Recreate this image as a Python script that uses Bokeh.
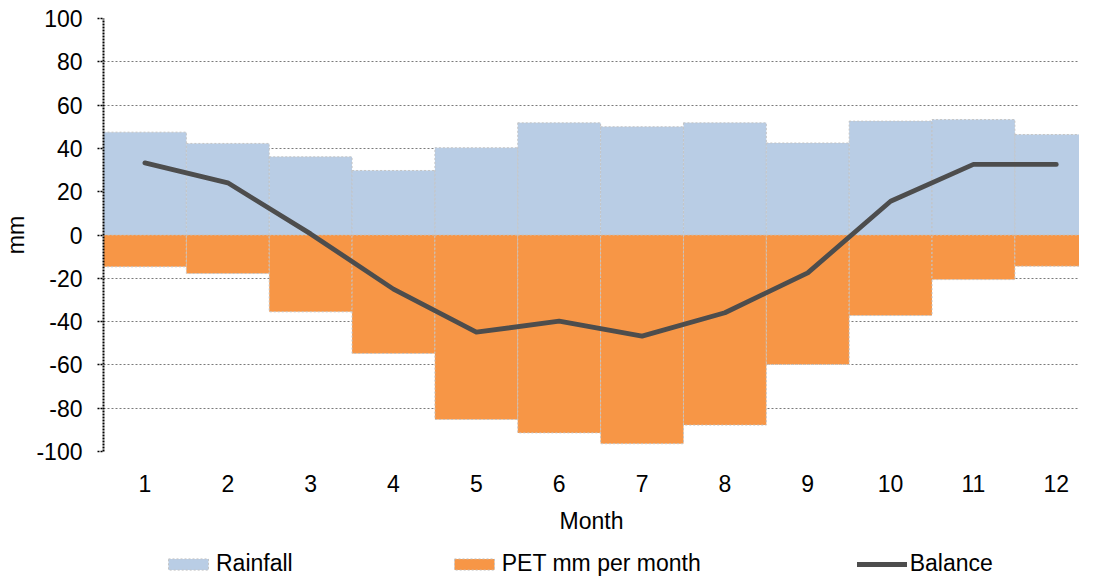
from bokeh.plotting import figure
from bokeh.layouts import column
from bokeh.models import Legend, LegendItem, FixedTicker, Range1d, PrintfTickFormatter
from bokeh.embed import file_html
from bokeh.resources import INLINE

months = [1, 2, 3, 4, 5, 6, 7, 8, 9, 10, 11, 12]
rainfall = [47.5, 42.3, 36.1, 29.8, 40.3, 51.8, 50.0, 51.8, 42.5, 52.6, 53.3, 46.4]
pet = [-14.7, -17.8, -35.5, -54.7, -85.2, -91.4, -96.4, -87.8, -59.8, -37.2, -20.6, -14.4]
balance = [33.3, 24.1, 0.5, -25.0, -44.9, -39.8, -46.7, -35.9, -17.5, 15.6, 32.6, 32.6]
y_ticks = [-100, -80, -60, -40, -20, 0, 20, 40, 60, 80, 100]

FONT = "Liberation Sans"
FS = "23px"
RAIN_C = "#B9CDE5"
PET_C = "#F79646"
BAL_C = "#4D4D4D"
EDGE_C = "#c4c4c4"

p = figure(width=1079, height=539, x_range=Range1d(0.5, 12.28), y_range=Range1d(-100, 100),
           output_backend="svg", toolbar_location=None,
           min_border_left=10, min_border_right=0, min_border_top=18, min_border_bottom=88)
p.outline_line_color = None
p.background_fill_color = "white"

p.xgrid.visible = False
p.ygrid.ticker = FixedTicker(ticks=y_ticks)
p.ygrid.grid_line_color = "#7a7a7a"
p.ygrid.grid_line_dash = "2 2"
p.ygrid.grid_line_width = 1

p.vbar(x=months, top=rainfall, bottom=0, width=1.0, fill_color=RAIN_C,
       line_color=EDGE_C, line_dash="2 2", line_width=1)
p.vbar(x=months, top=pet, bottom=0, width=1.0, fill_color=PET_C,
       line_color=EDGE_C, line_dash="2 2", line_width=1)
p.line(months, balance, line_width=4.8, line_color=BAL_C,
       line_cap="round", line_join="round")

ya = p.yaxis[0]
ya.ticker = FixedTicker(ticks=y_ticks)
ya.formatter = PrintfTickFormatter(format="%d")
ya.axis_line_color = "black"
ya.axis_line_dash = "2 1"
ya.axis_line_width = 2
ya.major_tick_out = 6
ya.major_tick_in = 0
ya.major_tick_line_color = "black"
ya.major_tick_line_dash = "2 1"
ya.major_tick_line_width = 1.5
ya.minor_tick_line_color = None
ya.major_label_standoff = 15
ya.major_label_text_font = FONT
ya.major_label_text_font_size = FS
ya.major_label_text_color = "black"
ya.axis_label = "mm"
ya.axis_label_text_font = FONT
ya.axis_label_text_font_size = FS
ya.axis_label_text_font_style = "normal"
ya.axis_label_text_color = "black"
ya.axis_label_standoff = 4

xa = p.xaxis[0]
xa.ticker = FixedTicker(ticks=months)
xa.axis_line_color = None
xa.major_tick_line_color = None
xa.minor_tick_line_color = None
xa.major_label_standoff = 17
xa.major_label_text_font = FONT
xa.major_label_text_font_size = FS
xa.major_label_text_color = "black"
xa.axis_label = "Month"
xa.axis_label_text_font = FONT
xa.axis_label_text_font_size = FS
xa.axis_label_text_font_style = "normal"
xa.axis_label_text_color = "black"
xa.axis_label_standoff = 13

# legend strip: proxies use the same data, drawn outside this strip's visible range
q = figure(width=1079, height=38, x_range=Range1d(0.5, 12.28), y_range=Range1d(500, 600),
           output_backend="svg", toolbar_location=None,
           min_border_left=0, min_border_right=0, min_border_top=0, min_border_bottom=0)
q.axis.visible = False
q.grid.visible = False
q.outline_line_color = None
lr = q.vbar(x=months, top=rainfall, bottom=0, width=1.0, fill_color=RAIN_C,
            line_color=EDGE_C, line_dash="2 2", line_width=1)
lp = q.vbar(x=months, top=pet, bottom=0, width=1.0, fill_color=PET_C,
            line_color=EDGE_C, line_dash="2 2", line_width=1)
lb = q.line(x=months, y=balance, line_width=5, line_color=BAL_C, line_cap="round")

legend = Legend(items=[LegendItem(label="Rainfall", renderers=[lr]),
                       LegendItem(label="PET mm per month", renderers=[lp]),
                       LegendItem(label="Balance", renderers=[lb])],
                orientation="horizontal", location=(60, 0), spacing=156,
                glyph_width=50, glyph_height=14, label_standoff=3,
                padding=0, margin=0, border_line_color=None, background_fill_alpha=0,
                label_text_font=FONT, label_text_font_size=FS, label_text_color="black")
q.add_layout(legend, "center")

layout = column(p, q, spacing=0)
open("out.html", "w").write(file_html(layout, INLINE))
